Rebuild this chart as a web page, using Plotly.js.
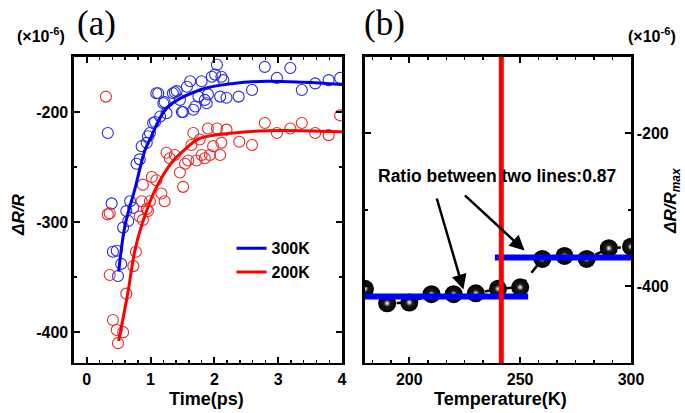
<!DOCTYPE html>
<html>
<head>
<meta charset="utf-8">
<script src="https://cdn.plot.ly/plotly-3.0.1.min.js"></script>
<style>html,body{margin:0;padding:0;background:#fff;}#chart{width:685px;height:413px;}</style>
</head>
<body>
<div id="chart"></div>
<script>
// ---- Panel (a) data: ΔR/R (×10^-6) vs time (ps) ----
const blueT = [0.33,0.39,0.41,0.47,0.49,0.54,0.57,0.62,0.65,0.68,0.73,0.78,0.83,0.86,0.94,0.96,0.99,1.04,1.07,1.09,1.12,1.15,1.20,1.22,1.25,1.35,1.38,1.41,1.46,1.49,1.51,1.57,1.62,1.67,1.70,1.75,1.80,1.85,1.88,1.90,1.96,2.01,2.04,2.09,2.11,2.14,2.19,2.38,2.59,2.79,2.98,3.19,3.37,3.58,3.79,3.97];
const blueY = [-219,-283,-327,-326,-349,-338,-305,-290,-299,-281,-287,-247,-243,-231,-228,-222,-219,-210,-209,-183,-183,-204,-192,-191,-201,-183,-182,-181,-189,-200,-200,-177,-172,-198,-195,-186,-172,-189,-192,-184,-168,-166,-157,-186,-168,-171,-187,-186,-180,-159,-169,-160,-180,-174,-171,-169];
const redT = [0.30,0.33,0.36,0.36,0.41,0.47,0.49,0.57,0.62,0.73,0.77,0.83,0.86,0.88,0.88,0.94,0.96,0.99,1.02,1.09,1.17,1.22,1.25,1.30,1.38,1.46,1.51,1.54,1.59,1.64,1.67,1.72,1.77,1.80,1.85,1.90,1.93,1.98,2.04,2.09,2.11,2.19,2.39,2.59,2.79,2.98,3.19,3.37,3.58,3.79,3.97];
const redY = [-186,-293,-292,-348,-389,-398,-410,-400,-365,-340,-327,-295,-281,-298,-266,-288,-290,-281,-259,-262,-274,-281,-237,-242,-239,-255,-268,-247,-244,-230,-219,-244,-225,-239,-242,-215,-239,-231,-215,-239,-228,-216,-227,-230,-210,-219,-215,-210,-219,-221,-203];
const blueFitT = [0.5,0.6,0.75,0.91,0.99,1.26,1.77,2.3,2.83,3.4,4.0];
const blueFitY = [-345,-303,-271,-235,-225,-196,-180,-174,-172,-173,-175];
const redFitT = [0.5,0.645,0.75,0.86,1.07,1.33,1.54,1.77,2.3,2.83,3.4,4.0];
const redFitY = [-408,-364,-327,-303,-271,-246,-234,-224,-219,-217,-217,-218];
const seriesNames = ['300K','200K'];
const timeTicks = [0,1,2,3,4];
const timeTickText = ['0','1','2','3','4'];
const dRTicks = [-400,-300,-200];
const dRTickText = ['-400','-300','-200'];

// ---- Panel (b) data: ΔR/Rmax (×10^-6) vs temperature (K) ----
const tempK = [180,190,200,210,220,230,240,250,260,270,280,290,300];
const ratioVals = [-403,-422,-421,-410,-410,-409,-403,-401,-364,-360,-364,-350,-348];
const lowLineX = [176,253.6];
const lowLineY = [-413,-413];
const highLineX = [238.6,304];
const highLineY = [-362,-362];
const transitionT = 241.5;
const tempTicks = [200,250,300];
const tempTickText = ['200','250','300'];
const ratioTicks = [-400,-200];
const ratioTickText = ['-400','-200'];
const ratioText = 'Ratio between two lines:0.87';
const ratioPos = [239.4,-256];
const arrow1 = {tail:[212.2,-283], head:[224.4,-404]};
const arrow2 = {tail:[224.4,-279], head:[252,-353]};

const SANS = 'Liberation Sans, Arial, sans-serif';
const bold = (s)=>({family:SANS,size:s,color:'#000',weight:'bold'});
const B = (arr)=>arr.map(s=>'<b>'+s+'</b>');

const traces = [
  {x:blueT,y:blueY,type:'scatter',mode:'markers',xaxis:'x',yaxis:'y',showlegend:false,
   marker:{symbol:'circle-open',size:11,color:'#2a2ae0',line:{width:1.1}}},
  {x:redT,y:redY,type:'scatter',mode:'markers',xaxis:'x',yaxis:'y',showlegend:false,
   marker:{symbol:'circle-open',size:11,color:'#ea2a2a',line:{width:1.1}}},
  {x:blueFitT,y:blueFitY,type:'scatter',mode:'lines',name:'<b>'+seriesNames[0]+'</b>',xaxis:'x',yaxis:'y',
   line:{color:'#0000ee',width:3,shape:'spline'}},
  {x:redFitT,y:redFitY,type:'scatter',mode:'lines',name:'<b>'+seriesNames[1]+'</b>',xaxis:'x',yaxis:'y',
   line:{color:'#ff0000',width:3,shape:'spline'}},
  {x:tempK,y:ratioVals,type:'scatter',mode:'lines+markers',xaxis:'x2',yaxis:'y2',showlegend:false,
   line:{color:'#000',width:2.5,dash:'dash'},
   marker:{size:18,color:'#000',gradient:{type:'radial',color:'#2a2a2a'}}},
  {x:tempK,y:ratioVals,type:'scatter',mode:'markers',xaxis:'x2',yaxis:'y2',showlegend:false,
   marker:{size:7,color:'#111',gradient:{type:'radial',color:'#ffffff'}}},
  {x:lowLineX,y:lowLineY,type:'scatter',mode:'lines',xaxis:'x2',yaxis:'y2',showlegend:false,
   line:{color:'#0000ff',width:6}},
  {x:highLineX,y:highLineY,type:'scatter',mode:'lines',xaxis:'x2',yaxis:'y2',showlegend:false,
   line:{color:'#0000ff',width:6}}
];

const axisBase = {showline:true,linecolor:'#000',linewidth:2.5,mirror:'allticks',ticks:'inside',
  ticklen:6,tickwidth:2,tickcolor:'#000',showgrid:false,zeroline:false,tickfont:bold(16),tickmode:'array'};

const layout = {
  width:685,height:413,margin:{l:0,r:0,t:0,b:0},paper_bgcolor:'#fff',plot_bgcolor:'#fff',
  showlegend:true,
  legend:{x:0.338,y:0.44,xanchor:'left',yanchor:'top',font:bold(16),bgcolor:'rgba(0,0,0,0)',tracegroupgap:0},
  xaxis:Object.assign({},axisBase,{domain:[0.108,0.4993],range:[-0.2,4.0],tickvals:timeTicks,ticktext:B(timeTickText),anchor:'y',
    minor:{ticks:'inside',ticklen:3,tickwidth:1.5,dtick:0.2,tick0:0,tickcolor:'#000'}}),
  yaxis:Object.assign({},axisBase,{domain:[0.1211,0.862],range:[-428,-150],tickvals:dRTicks,ticktext:B(dRTickText),anchor:'x',
    minor:{ticks:'inside',ticklen:3,tickwidth:1.5,dtick:50,tick0:0,tickcolor:'#000'}}),
  xaxis2:Object.assign({},axisBase,{domain:[0.5328,0.9212],range:[180,300],tickvals:tempTicks,ticktext:B(tempTickText),anchor:'y2',
    minor:{ticks:'inside',ticklen:3,tickwidth:1.5,dtick:25/3,tick0:0,tickcolor:'#000'}}),
  yaxis2:Object.assign({},axisBase,{domain:[0.1211,0.862],range:[-500,-100],tickvals:ratioTicks,ticktext:B(ratioTickText),anchor:'x2',side:'right',
    minor:{ticks:'inside',ticklen:3,tickwidth:1.5,dtick:100,tick0:0,tickcolor:'#000'}}),
  shapes:[
    {type:'line',xref:'x2',yref:'y2 domain',x0:transitionT,x1:transitionT,y0:0,y1:1,layer:'above',
     line:{color:'#ff0000',width:5}}
  ],
  annotations:[
    {text:'(a)',xref:'paper',yref:'paper',x:0.1416,y:0.944,xanchor:'center',yanchor:'middle',showarrow:false,font:{family:'Liberation Serif, Times New Roman, serif',size:35,color:'#000'}},
    {text:'(b)',xref:'paper',yref:'paper',x:0.5606,y:0.944,xanchor:'center',yanchor:'middle',showarrow:false,font:{family:'Liberation Serif, Times New Roman, serif',size:35,color:'#000'}},
    {text:'<b>(×10<sup>-6</sup>)</b>',xref:'paper',yref:'paper',x:0.06,y:0.915,xanchor:'center',yanchor:'middle',showarrow:false,font:bold(16)},
    {text:'<b>(×10<sup>-6</sup>)</b>',xref:'paper',yref:'paper',x:0.952,y:0.915,xanchor:'center',yanchor:'middle',showarrow:false,font:bold(16)},
    {text:'<b><i>ΔR/R</i></b>',xref:'paper',yref:'paper',x:0.026,y:0.479,xanchor:'center',yanchor:'middle',textangle:-90,showarrow:false,font:bold(17)},
    {text:'<b><i>ΔR/R<sub>max</sub></i></b>',xref:'paper',yref:'paper',x:0.982,y:0.515,xanchor:'center',yanchor:'middle',textangle:-90,showarrow:false,font:bold(17)},
    {text:'<b>Time(ps)</b>',xref:'paper',yref:'paper',x:0.302,y:0.034,xanchor:'center',yanchor:'middle',showarrow:false,font:bold(18)},
    {text:'<b>Temperature(K)</b>',xref:'paper',yref:'paper',x:0.731,y:0.034,xanchor:'center',yanchor:'middle',showarrow:false,font:bold(18)},
    {text:'<b>'+ratioText+'</b>',xref:'x2',yref:'y2',x:ratioPos[0],y:ratioPos[1],showarrow:false,font:bold(17.5)},
    {text:'',xref:'x2',yref:'y2',axref:'x2',ayref:'y2',x:arrow1.head[0],y:arrow1.head[1],ax:arrow1.tail[0],ay:arrow1.tail[1],
     showarrow:true,arrowhead:2,arrowsize:1.2,arrowwidth:2.5,arrowcolor:'#000',standoff:0},
    {text:'',xref:'x2',yref:'y2',axref:'x2',ayref:'y2',x:arrow2.head[0],y:arrow2.head[1],ax:arrow2.tail[0],ay:arrow2.tail[1],
     showarrow:true,arrowhead:2,arrowsize:1.2,arrowwidth:2.5,arrowcolor:'#000',standoff:0}
  ]
};

Plotly.newPlot('chart',traces,layout,{displayModeBar:false,staticPlot:true});
</script>
</body>
</html>
